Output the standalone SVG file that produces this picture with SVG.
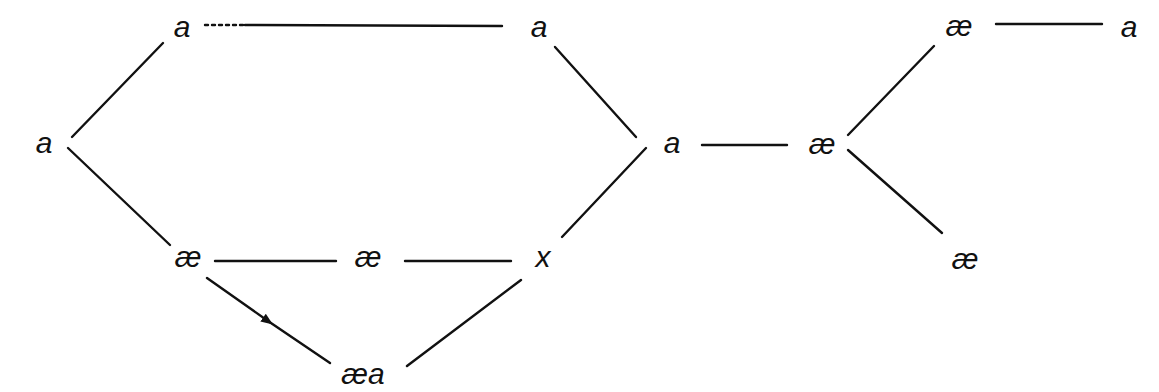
<svg xmlns="http://www.w3.org/2000/svg" width="1159" height="392" viewBox="0 0 1159 392">
<style>
.lbl{font-family:"Liberation Sans","DejaVu Sans",sans-serif;font-style:italic;font-size:30px;fill:#111;text-anchor:middle;dominant-baseline:central}
.e{stroke:#111;stroke-width:2.4;fill:none;stroke-linecap:round}
.dot{stroke-dasharray:3 4}
</style>
<defs>
<marker id="mid" viewBox="0 0 10 10" refX="5" refY="5" markerWidth="5" markerHeight="5" orient="auto" markerUnits="strokeWidth">
<path d="M0,1 L10,5 L0,9 z" fill="#111"/>
</marker>
</defs>
<rect width="1159" height="392" fill="#fff"/>
<g id="connectors">
<line class="e dot" x1="205" y1="25" x2="245" y2="25"/>
<line class="e" x1="245" y1="25" x2="502" y2="26"/>
<line class="e" x1="163" y1="43" x2="72" y2="137"/>
<line class="e" x1="68" y1="148" x2="170" y2="245"/>
<line class="e" x1="215" y1="261" x2="336" y2="261"/>
<line class="e" x1="405" y1="261" x2="511" y2="261"/>
<polyline class="e" points="207,278 268,321 330,363" marker-mid="url(#mid)"/>
<line class="e" x1="407" y1="366" x2="521" y2="280"/>
<line class="e" x1="562" y1="237" x2="646" y2="148"/>
<line class="e" x1="555" y1="47" x2="636" y2="137"/>
<line class="e" x1="702" y1="145" x2="787" y2="145"/>
<line class="e" x1="848" y1="135" x2="934" y2="46"/>
<line class="e" x1="848" y1="150" x2="942" y2="233"/>
<line class="e" x1="996" y1="24" x2="1102" y2="24"/>
</g>
<g id="n1"><text class="lbl" x="182" y="26">a</text></g>
<g id="n2"><text class="lbl" x="44" y="142">a</text></g>
<g id="n3"><text class="lbl" x="539" y="26">a</text></g>
<g id="n4"><text class="lbl" x="672" y="142">a</text></g>
<g id="n5"><text class="lbl" x="822" y="143">æ</text></g>
<g id="n6"><text class="lbl" x="959" y="25">æ</text></g>
<g id="n7"><text class="lbl" x="1129" y="26">a</text></g>
<g id="n8"><text class="lbl" x="965" y="258">æ</text></g>
<g id="n9"><text class="lbl" x="188" y="256">æ</text></g>
<g id="n10"><text class="lbl" x="368" y="256">æ</text></g>
<g id="n11"><text class="lbl" x="543" y="256">x</text></g>
<g id="n12"><text class="lbl" x="363" y="373">æa</text></g>
</svg>
